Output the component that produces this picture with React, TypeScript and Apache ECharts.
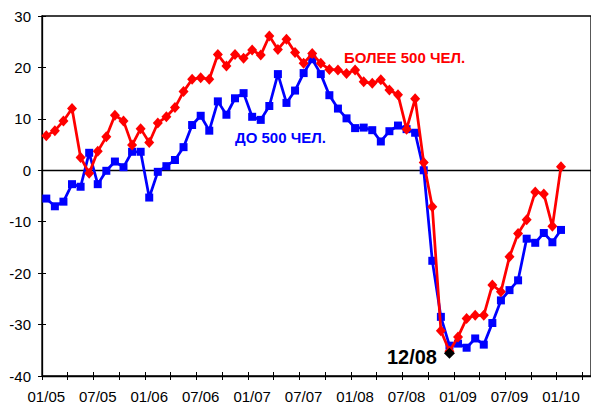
import React, { useEffect, useRef } from "react";
import * as echarts from "echarts";

const categories = [
  "01/05","02/05","03/05","04/05","05/05","06/05","07/05","08/05","09/05","10/05","11/05","12/05",
  "01/06","02/06","03/06","04/06","05/06","06/06","07/06","08/06","09/06","10/06","11/06","12/06",
  "01/07","02/07","03/07","04/07","05/07","06/07","07/07","08/07","09/07","10/07","11/07","12/07",
  "01/08","02/08","03/08","04/08","05/08","06/08","07/08","08/08","09/08","10/08","11/08","12/08",
  "01/09","02/09","03/09","04/09","05/09","06/09","07/09","08/09","09/09","10/09","11/09","12/09",
  "01/10","02/10","03/10","04/10",
];

// ДО 500 ЧЕЛ. (blue)
const smallFirms = [
  -5.5, -7.0, -6.1, -2.7, -3.2, 3.4, -2.7, -0.1, 1.7, 0.6, 3.6, 3.6,
  -5.3, -0.3, 0.8, 2.0, 4.5, 8.8, 10.6, 7.7, 13.4, 10.8, 14.0, 15.0,
  10.4, 9.8, 12.5, 18.7, 13.1, 15.5, 18.9, 21.6, 18.7, 14.6, 12.0, 10.1,
  8.2, 8.3, 7.8, 5.6, 7.6, 8.7, 8.0, 7.3, 0.0, -17.6, -28.5, -34.1,
  -33.7, -34.5, -32.7, -33.9, -29.7, -25.3, -23.3, -21.4, -13.3, -14.1, -12.2, -14.0,
  -11.6,
];

// БОЛЕЕ 500 ЧЕЛ. (red)
const largeFirms = [
  6.7, 7.7, 9.6, 12.0, 2.5, -0.6, 3.7, 6.5, 10.7, 9.6, 4.9, 8.1,
  5.4, 9.2, 10.4, 12.2, 15.3, 17.7, 18.0, 17.7, 22.5, 20.3, 22.5, 21.8,
  23.4, 22.4, 26.1, 23.5, 25.5, 22.9, 20.8, 22.7, 20.8, 19.6, 19.5, 18.8,
  19.5, 17.2, 16.9, 17.6, 15.6, 14.7, 8.0, 13.9, 1.5, -7.1, -31.2, -35.2,
  -32.4, -28.8, -28.2, -28.2, -22.3, -23.6, -16.8, -12.3, -9.6, -4.2, -4.6, -10.9,
  0.7,
];

const markerCategory = "12/08";
const markerValue = -35.6;

const yTicks = { min: -40, max: 30, step: 10 };

const FONT = '"Liberation Sans", Arial, sans-serif';

export default function App() {
  const ref = useRef<HTMLDivElement>(null);

  useEffect(() => {
    if (!ref.current) return;
    const chart = echarts.init(ref.current, null, { renderer: "svg" });
    const axisColor = "#000";
    const baseX = {
      type: "category" as const,
      data: categories,
      boundaryGap: true,
      position: "bottom" as const,
      gridIndex: 0,
    };
    chart.setOption({
      animation: false,
      backgroundColor: "#fff",
      textStyle: { fontFamily: FONT },
      grid: {
        left: 42,
        top: 16,
        width: 553,
        height: 360,
        show: true,
        borderColor: axisColor,
        borderWidth: 1.3,
        backgroundColor: "transparent",
      },
      xAxis: [
        {
          ...baseX,
          axisLine: { show: true, onZero: true, lineStyle: { color: axisColor, width: 1.3 } },
          axisTick: { show: false },
          axisLabel: { show: false },
          splitLine: { show: false },
        },
        {
          ...baseX,
          axisLine: { show: true, onZero: false, lineStyle: { color: axisColor, width: 1.3 } },
          axisTick: { show: true, interval: 2, length: 4, lineStyle: { color: axisColor, width: 1 } },
          axisLabel: {
            show: true,
            interval: 5,
            margin: 13,
            fontSize: 15,
            color: "#000",
            fontFamily: FONT,
          },
          splitLine: { show: false },
        },
        {
          ...baseX,
          axisLine: { show: false, onZero: false },
          axisTick: { show: true, inside: true, interval: 2, length: 4, lineStyle: { color: axisColor, width: 1 } },
          axisLabel: { show: false },
          splitLine: { show: false },
        },
      ],
      yAxis: [
        {
          type: "value",
          min: yTicks.min,
          max: yTicks.max,
          interval: yTicks.step,
          position: "left",
          axisLine: { show: true, onZero: false, lineStyle: { color: axisColor, width: 1.3 } },
          axisTick: { show: true, length: 4, lineStyle: { color: axisColor, width: 1 } },
          axisLabel: { show: true, margin: 11, fontSize: 15, color: "#000", fontFamily: FONT },
          splitLine: { show: false },
        },
        {
          type: "value",
          min: yTicks.min,
          max: yTicks.max,
          interval: yTicks.step,
          position: "left",
          axisLine: { show: false, onZero: false },
          axisTick: { show: true, inside: true, length: 4, lineStyle: { color: axisColor, width: 1 } },
          axisLabel: { show: false },
          splitLine: { show: false },
        },
      ],
      series: [
        {
          type: "line",
          name: "ДО 500 ЧЕЛ.",
          xAxisIndex: 1,
          yAxisIndex: 0,
          data: smallFirms,
          symbol: "rect",
          symbolSize: 8,
          showAllSymbol: true,
          lineStyle: { color: "#0000FF", width: 2.75 },
          itemStyle: { color: "#0000FF", opacity: 1 },
          z: 2,
        },
        {
          type: "line",
          name: "БОЛЕЕ 500 ЧЕЛ.",
          xAxisIndex: 1,
          yAxisIndex: 0,
          data: largeFirms,
          symbol: "diamond",
          symbolSize: [10, 11],
          showAllSymbol: true,
          lineStyle: { color: "#FF0000", width: 2.75 },
          itemStyle: { color: "#FF0000", opacity: 1 },
          z: 3,
        },
        {
          type: "scatter",
          xAxisIndex: 1,
          yAxisIndex: 0,
          data: [[markerCategory, markerValue]],
          symbol: "diamond",
          symbolSize: 11,
          itemStyle: { color: "#000", opacity: 1 },
          z: 4,
          label: {
            show: true,
            position: "left",
            distance: 7,
            offset: [0, 4],
            formatter: markerCategory,
            fontSize: 20,
            fontWeight: "bold",
            color: "#000",
            opacity: 1,
            fontFamily: FONT,
          },
        },
      ],
      graphic: [
        {
          type: "text",
          left: 344,
          top: 50,
          style: {
            text: "БОЛЕЕ 500 ЧЕЛ.",
            fill: "#FF0000",
            font: `bold 15px ${FONT}`,
          },
          z: 10,
        },
        {
          type: "text",
          left: 235,
          top: 130,
          style: {
            text: "ДО 500 ЧЕЛ.",
            fill: "#0000FF",
            font: `bold 15px ${FONT}`,
          },
          z: 10,
        },
      ],
    });
    return () => chart.dispose();
  }, []);

  return (
    <div
      ref={ref}
      style={{ position: "fixed", left: 0, top: 0, width: 591, height: 407, background: "#fff" }}
    />
  );
}
